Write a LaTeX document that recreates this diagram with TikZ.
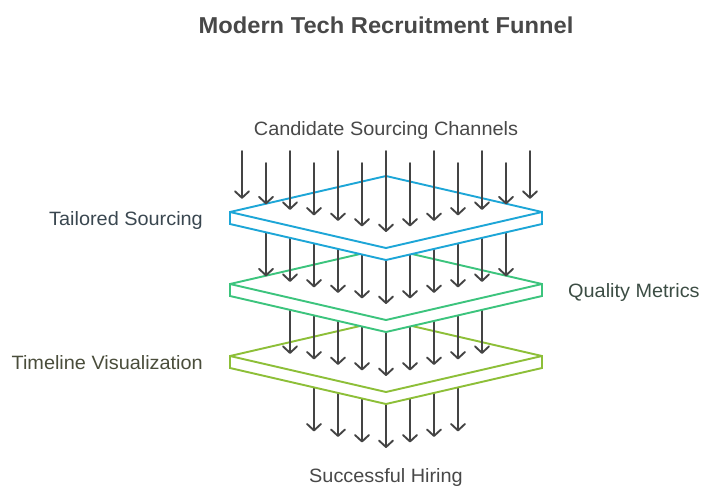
\documentclass[tikz,border=0pt]{standalone}
\usepackage{fontspec}
\setmainfont[FakeStretch=1.03]{Liberation Sans}
\usetikzlibrary{arrows.meta}
\definecolor{arrowgray}{HTML}{444444}
\definecolor{plateblue}{HTML}{1DA6D7}
\definecolor{plategreen}{HTML}{3CC47D}
\definecolor{plateolive}{HTML}{8DBF38}
\definecolor{txtgray}{HTML}{484848}
\definecolor{txtblue}{HTML}{3A4750}
\definecolor{txtgreen}{HTML}{3C4D44}
\definecolor{txtolive}{HTML}{4A4D3B}
\newcommand\drawplate[2]{%
  \filldraw[platestyle, draw=#2] (230,#1) -- (386,#1-36) -- (542,#1) -- (542,#1+12) -- (386,#1+48) -- (230,#1+12) -- cycle;
  \draw[platestyle, draw=#2] (230,#1) -- (386,#1+36) -- (542,#1);
}
\begin{document}
\begin{tikzpicture}[x=1pt,y=-1pt,
  arr/.style={draw=arrowgray, line width=1.9pt, line cap=round,
    -{Straight Barb[length=6.5pt,width=14pt,line width=1.9pt,round]}},
  platestyle/.style={fill=white, line width=1.9pt, line join=miter},
  lbl/.style={font=\fontsize{19.3}{22}\selectfont, inner sep=0pt},
  ]
\useasboundingbox (0,0) rectangle (714,491);
\node[font=\fontsize{23}{26}\selectfont\bfseries, text=txtgray, anchor=base, inner sep=0pt] (title) at (386,33.3) {Modern Tech Recruitment Funnel};

% arrows below olive plate
\foreach \i in {-3,...,3}{
  \coordinate (d\i) at ({386+24*\i},356);
  \coordinate (e\i) at ({386+24*\i},{448-0.2308*abs(24*\i)});
  \draw[arr] (d\i) -- (e\i);
}
\drawplate{356}{plateolive}
% arrows green -> olive
\foreach \i in {-4,...,4}{
  \coordinate (c\i) at ({386+24*\i},284);
  \coordinate (f\i) at ({386+24*\i},{376-0.2308*abs(24*\i)});
  \draw[arr] (c\i) -- (f\i);
}
\drawplate{284}{plategreen}
% arrows blue -> green
\foreach \i in {-5,...,5}{
  \coordinate (b\i) at ({386+24*\i},212);
  \coordinate (g\i) at ({386+24*\i},{304-0.2308*abs(24*\i)});
  \draw[arr] (b\i) -- (g\i);
}
\drawplate{212}{plateblue}
% top arrows
\foreach \i in {-6,...,6}{
  \pgfmathsetmacro\st{ifthenelse(isodd(\i),163,151)}
  \coordinate (a\i) at ({386+24*\i},\st);
  \coordinate (h\i) at ({386+24*\i},{232-0.2308*abs(24*\i)});
  \draw[arr] (a\i) -- (h\i);
}

\node[lbl, text=txtgray, anchor=base] (src) at (386,135) {Candidate Sourcing Channels};
\node[lbl, text=txtblue, anchor=base east] (tail) at (203,225) {Tailored Sourcing};
\node[lbl, text=txtgreen, anchor=base west] (qual) at (568,297) {Quality Metrics};
\node[lbl, text=txtolive, anchor=base east] (time) at (203,369) {Timeline Visualization};
\node[lbl, text=txtgray, anchor=base] (hire) at (386,482.3) {Successful Hiring};
\end{tikzpicture}
\end{document}
